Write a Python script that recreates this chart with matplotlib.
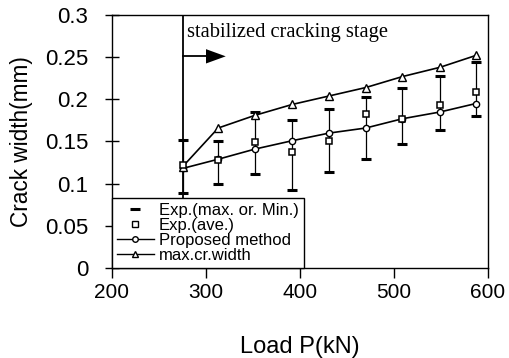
import numpy as np
import matplotlib.pyplot as plt
from matplotlib.lines import Line2D

plt.rcParams['font.family'] = ['Liberation Sans', 'DejaVu Sans']

# load steps (kN)
load = [275, 313, 352, 392, 431, 470, 509, 549, 587]

# crack widths (mm)
exp_ave = [0.122, 0.128, 0.149, 0.137, 0.150, 0.183, 0.177, 0.193, 0.209]
exp_max = [0.152, 0.151, 0.185, 0.176, 0.189, 0.203, 0.214, 0.228, 0.244]
exp_min = [0.089, 0.100, 0.111, 0.093, 0.114, 0.129, 0.147, 0.164, 0.180]
proposed = [0.118, 0.129, 0.141, 0.151, 0.160, 0.166, 0.177, 0.185, 0.195]
max_cr_width = [0.120, 0.166, 0.181, 0.194, 0.204, 0.214, 0.227, 0.238, 0.252]

stab_load = 275

fig = plt.figure(figsize=(5.1, 3.58), dpi=100)
ax = fig.add_axes([0.2196, 0.2514, 0.7373, 0.7067])

# error bars (max / min)
for x, lo, hi in zip(load, exp_min, exp_max):
    ax.plot([x, x], [lo, hi], color='black', lw=0.9, zorder=2)
ax.plot(load, exp_max, linestyle='none', marker='_', markersize=7, markeredgewidth=2.2, color='black', zorder=3)
ax.plot(load, exp_min, linestyle='none', marker='_', markersize=7, markeredgewidth=2.2, color='black', zorder=3)

ax.plot(load, proposed, color='black', lw=1.2, marker='o', markersize=4.5,
        markerfacecolor='white', markeredgewidth=1, zorder=4)
ax.plot(load, max_cr_width, color='black', lw=1.2, marker='^', markersize=5.5,
        markerfacecolor='white', markeredgewidth=1, zorder=4)
ax.plot(load, exp_ave, linestyle='none', marker='s', markersize=5,
        markerfacecolor='white', markeredgecolor='black', markeredgewidth=1.1, zorder=5)

# stabilized cracking stage marker
ax.axvline(stab_load, color='black', lw=1.3, zorder=1)
ax.plot([stab_load, 302], [0.251, 0.251], color='black', lw=1.3)
ax.fill([300, 300, 321], [0.2425, 0.2595, 0.251], color='black', lw=0)
ax.text(280, 0.279, 'stabilized cracking stage', family=['Liberation Serif'],
        fontsize=14.8, va='center', ha='left')

ax.set_xlim(200, 600)
ax.set_ylim(0, 0.3)
ax.set_xticks([200, 300, 400, 500, 600])
ax.set_yticks([0, 0.05, 0.1, 0.15, 0.2, 0.25, 0.3])
ax.set_yticklabels(['0', '0.05', '0.1', '0.15', '0.2', '0.25', '0.3'])
ax.tick_params(axis='x', direction='out', length=7, width=1, labelsize=15, pad=4)
ax.tick_params(axis='y', direction='inout', length=10, width=1, labelsize=16, pad=12)
ax.set_xlabel('Load P(kN)', fontsize=17, labelpad=24)
ax.set_ylabel('Crack width(mm)', fontsize=16.3, labelpad=9)
for s in ax.spines.values():
    s.set_linewidth(1)

handles = [
    Line2D([], [], linestyle='none', marker='_', markersize=7, markeredgewidth=2.2, color='black'),
    Line2D([], [], linestyle='none', marker='s', markersize=5, markerfacecolor='white',
           markeredgecolor='black'),
    Line2D([], [], color='black', lw=1, marker='o', markersize=4, markerfacecolor='white'),
    Line2D([], [], color='black', lw=1, marker='^', markersize=5, markerfacecolor='white'),
]
labels = ['Exp.(max. or. Min.)', 'Exp.(ave.)', 'Proposed method', 'max.cr.width']
leg = ax.legend(handles, labels, loc='lower left', bbox_to_anchor=(0, 0), borderaxespad=0,
                fontsize=12, fancybox=False, framealpha=1, edgecolor='black',
                handlelength=2.2, handletextpad=0.3, labelspacing=0.0, borderpad=0.3)
leg.get_frame().set_linewidth(1)
leg.set_zorder(10)

fig.savefig('out.png', dpi=100)
